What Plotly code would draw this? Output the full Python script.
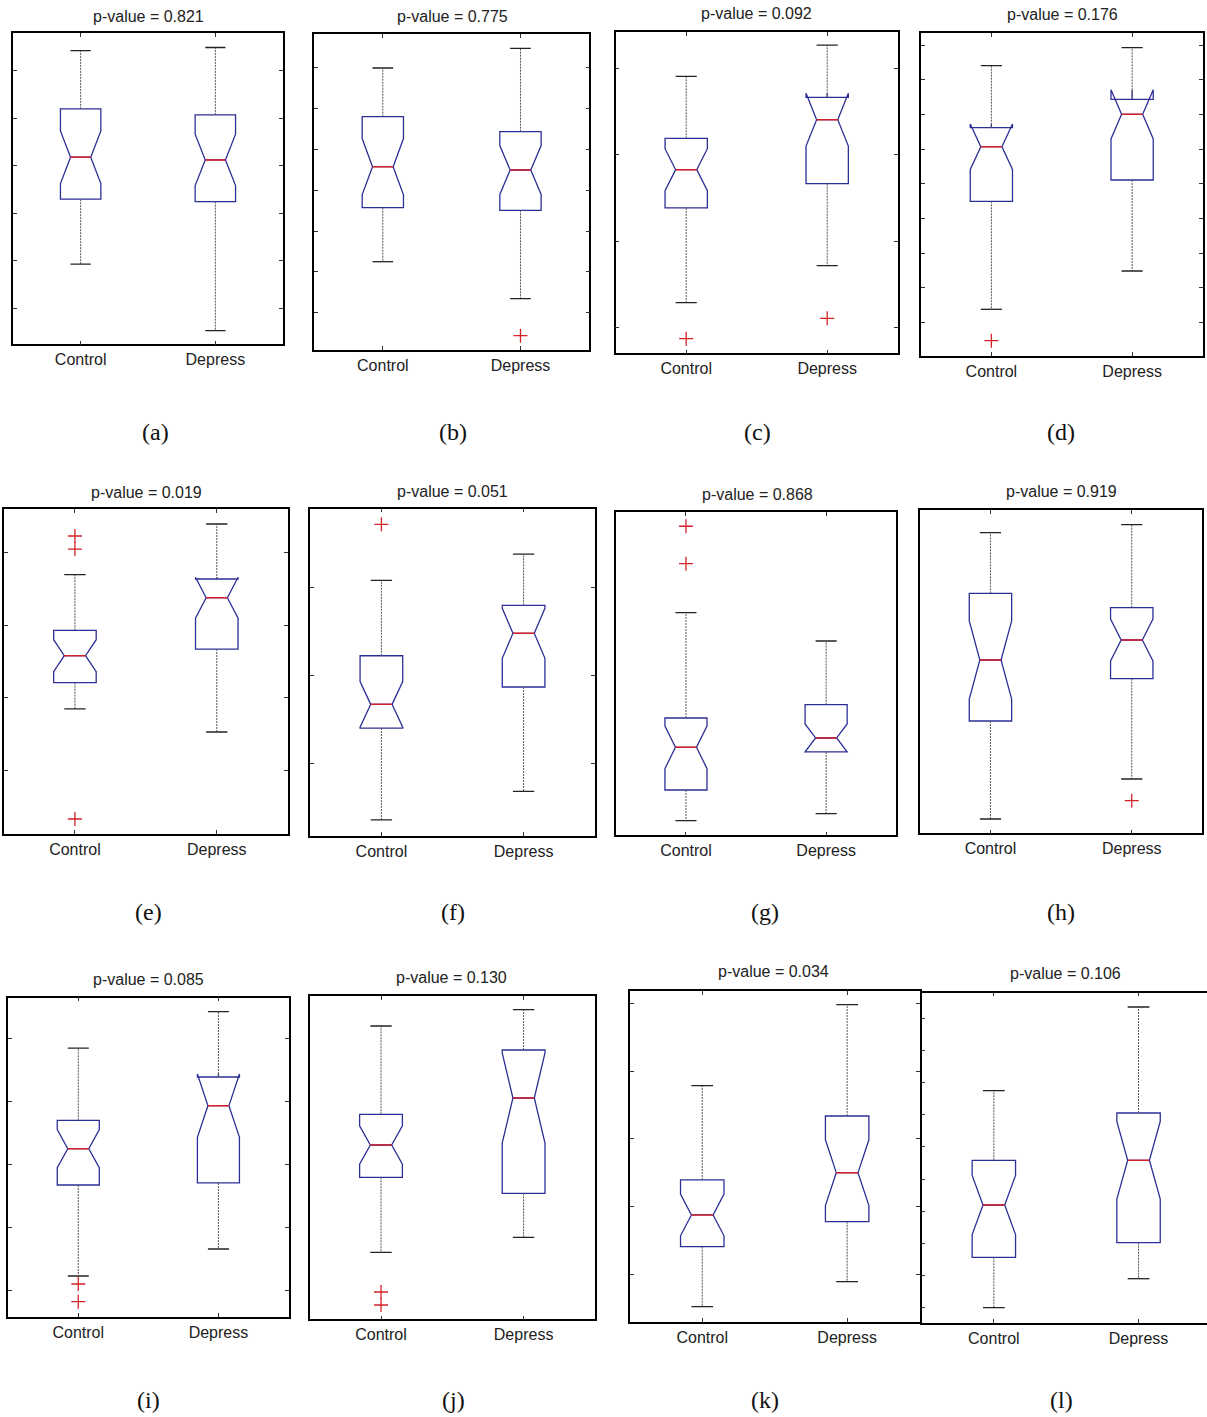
import plotly.graph_objects as go

# ---- data: notched box-plot statistics per panel (Control, Depress) ----
PANELS = ["a", "b", "c", "d", "e", "f", "g", "h", "i", "j", "k", "l"]
GROUPS = ["Control", "Depress"]
P_VALUES = [0.821, 0.775, 0.092, 0.176, 0.019, 0.051, 0.868, 0.919, 0.085, 0.130, 0.034, 0.106]

UPPER_WHISKER = [[6.427, 6.491], [7.0, 7.483], [3.904, 4.265], [8.406, 8.925],
                 [3.698, 4.398], [3.083, 3.383], [2.708, 2.386], [6.346, 6.506],
                 [4.852, 5.429], [6.48, 6.806], [3.788, 4.985], [7.75, 10.353]]
Q3 = [[5.2, 5.074], [5.806, 5.439], [3.189, 3.662], [6.62, 7.438],
      [2.93, 3.638], [2.223, 2.798], [1.511, 1.663], [5.134, 4.846],
      [3.705, 4.392], [4.714, 6.0], [2.394, 3.34], [5.585, 7.056]]
MEDIAN = [[4.183, 4.126], [4.581, 4.5], [2.827, 3.404], [6.072, 7.006],
          [2.579, 3.38], [1.669, 2.479], [1.178, 1.284], [3.8, 4.2],
          [3.254, 3.937], [4.1, 5.04], [1.877, 2.502], [4.194, 5.585]]
NOTCH_HALF = [[0.554, 0.541], [0.69, 0.6], [0.242, 0.305], [0.654, 0.709],
              [0.221, 0.282], [0.26, 0.285], [0.242, 0.159], [0.78, 0.417],
              [0.302, 0.503], [0.383, 0.9], [0.308, 0.486], [0.918, 1.207]]
Q1 = [[3.299, 3.248], [3.576, 3.512], [2.385, 2.665], [4.499, 5.112],
      [2.206, 2.671], [1.399, 1.867], [0.693, 1.125], [2.58, 3.426],
      [2.678, 2.71], [3.454, 3.134], [1.408, 1.778], [2.568, 3.022]]
LOWER_WHISKER = [[1.931, 0.533], [2.252, 1.346], [1.292, 1.719], [1.386, 2.49],
                 [1.843, 1.525], [0.353, 0.677], [0.344, 0.424], [0.62, 1.42],
                 [1.233, 1.662], [1.954, 2.254], [0.521, 0.891], [1.0, 1.902]]
OUTLIERS = [[[], []], [[], [0.439]], [[0.877], [1.112]], [[0.481], []],
            [[4.232, 4.052, 0.323], []], [[3.722], []], [[3.69, 3.265], []], [[], [0.986]],
            [[1.106, 0.825], []], [[1.16, 0.9], []], [[], []], [[], []]]

Y_LIMITS = [[0.246, 6.79], [0.088, 7.833], [0.708, 4.412], [0.04, 9.34],
            [0.116, 4.601], [0.168, 3.9], [0.178, 3.852], [0.334, 6.794],
            [0.587, 5.651], [0.614, 7.074], [0.299, 5.183], [0.524, 10.798]]
Y_TICKS = [[1, 2, 3, 4, 5, 6], [1, 2, 3, 4, 5, 6, 7], [1, 2, 3, 4], list(range(1, 10)),
           [1, 2, 3, 4], [1, 2, 3], [], [],
           [1, 2, 3, 4, 5], [], [1, 2, 3, 4, 5], list(range(1, 11))]

# ---- layout: axes frames in page pixels (left, top, right, bottom) ----
W, H = 1207, 1417
FRAMES = [(13.3, 33.3, 282.7, 344.3), (314, 34, 589.3, 350), (615.7, 32.3, 897.7, 353.3),
          (921, 33.3, 1202.5, 356), (4, 509.3, 287.7, 834), (310.3, 508.7, 594.7, 836),
          (615.9, 512, 896.2, 835.3), (919.8, 510.3, 1202.4, 833.3), (8.2, 997.7, 288.5, 1316.7),
          (309.7, 996.3, 594.9, 1319.3), (629.8, 991.3, 919.6, 1321.7), (921.5, 992.7, 1207, 1323)]
TITLE_POS = [(148, 16), (452, 16), (756, 13.5), (1062, 14), (146, 492), (452, 491.5),
             (757, 494), (1061, 491.5), (148, 979), (451, 977.5), (773, 971.5), (1065, 973.5)]
LABEL_POS = [(155, 432), (453, 432), (757, 432), (1061, 432), (148, 912), (453, 912),
             (765, 912), (1061, 912), (148, 1400), (453, 1400), (765, 1400), (1061, 1400)]

BLUE = "#2c2f96"
RED = "#d4202a"
BOX_WIDTH = 0.3
CAP_HALF = 0.075
MED_HALF = 0.075
UNIT_L = 144.7  # pixels per category step in the last, clipped panel

fig = go.Figure()
annotations = []

for k, pid in enumerate(PANELS):
    ax = "" if k == 0 else str(k + 1)
    xref, yref = "x" + ax, "y" + ax
    xs = [1, 2]

    fig.add_trace(go.Box(
        x=xs, q1=Q1[k], median=MEDIAN[k], q3=Q3[k],
        lowerfence=Q1[k], upperfence=Q3[k],
        notched=True, notchspan=NOTCH_HALF[k], notchwidth=0.25,
        width=BOX_WIDTH, whiskerwidth=0, boxpoints=False,
        line=dict(color=BLUE, width=1.3), fillcolor="rgba(255,255,255,0)",
        xaxis=xref, yaxis=yref, showlegend=False, hoverinfo="skip"))

    # whiskers (dotted), caps, red medians
    wx, wy, cx, cy, mx, my = [], [], [], [], [], []
    for g in range(2):
        x = xs[g]
        wx += [x, x, None, x, x, None]
        wy += [Q3[k][g], UPPER_WHISKER[k][g], None, Q1[k][g], LOWER_WHISKER[k][g], None]
        cx += [x - CAP_HALF, x + CAP_HALF, None, x - CAP_HALF, x + CAP_HALF, None]
        cy += [UPPER_WHISKER[k][g]] * 2 + [None] + [LOWER_WHISKER[k][g]] * 2 + [None]
        mx += [x - MED_HALF, x + MED_HALF, None]
        my += [MEDIAN[k][g]] * 2 + [None]
    fig.add_trace(go.Scatter(x=wx, y=wy, mode="lines", xaxis=xref, yaxis=yref,
                             line=dict(color="#555555", width=1, dash="2px,1px"),
                             showlegend=False, hoverinfo="skip"))
    fig.add_trace(go.Scatter(x=cx, y=cy, mode="lines", xaxis=xref, yaxis=yref,
                             line=dict(color="#222222", width=1.3),
                             showlegend=False, hoverinfo="skip"))
    fig.add_trace(go.Scatter(x=mx, y=my, mode="lines", xaxis=xref, yaxis=yref,
                             line=dict(color=RED, width=1.5),
                             showlegend=False, hoverinfo="skip"))
    ox, oy = [], []
    for g in range(2):
        ox += [xs[g]] * len(OUTLIERS[k][g])
        oy += OUTLIERS[k][g]
    if ox:
        fig.add_trace(go.Scatter(x=ox, y=oy, mode="markers", xaxis=xref, yaxis=yref,
                                 marker=dict(symbol="cross-thin", size=10,
                                             line=dict(color=RED, width=1.3)),
                                 showlegend=False, hoverinfo="skip"))

    L, T, R, B = FRAMES[k]
    x_hi = 2.5 if R < W else 0.5 + (W - L) / UNIT_L
    xaxis = dict(domain=[L / W, min(R, W) / W], range=[0.5, x_hi],
                 tickvals=xs, ticktext=GROUPS, ticks="inside", ticklen=4, tickwidth=1,
                 tickcolor="#333", showline=True, linecolor="black", linewidth=1.5,
                 mirror="ticks", showgrid=False, zeroline=False, fixedrange=True,
                 tickfont=dict(family="Liberation Sans, Arial", size=16, color="#222"),
                 anchor=yref)
    yaxis = dict(domain=[1 - B / H, 1 - T / H], range=Y_LIMITS[k],
                 tickvals=Y_TICKS[k], showticklabels=False, ticks="inside", ticklen=4,
                 tickwidth=1, tickcolor="#333", showline=True, linecolor="black",
                 linewidth=1.5, mirror=("ticks" if R < W else False),
                 showgrid=False, zeroline=False, fixedrange=True, anchor=xref)
    fig.update_layout({"xaxis" + ax: xaxis, "yaxis" + ax: yaxis})

    tx, ty = TITLE_POS[k]
    annotations.append(dict(text=f"p-value = {P_VALUES[k]:.3f}", x=tx / W, y=1 - ty / H,
                            xref="paper", yref="paper", showarrow=False,
                            xanchor="center", yanchor="middle",
                            font=dict(family="Liberation Sans, Arial", size=16, color="#222")))
    lx, ly = LABEL_POS[k]
    annotations.append(dict(text=f"({pid})", x=lx / W, y=1 - ly / H,
                            xref="paper", yref="paper", showarrow=False,
                            xanchor="center", yanchor="middle",
                            font=dict(family="Liberation Serif, Times New Roman", size=24,
                                      color="#111")))

fig.update_layout(width=W, height=H, margin=dict(l=0, r=0, t=0, b=0),
                  paper_bgcolor="white", plot_bgcolor="white",
                  boxmode="overlay", annotations=annotations)

fig.write_html("out.html")
